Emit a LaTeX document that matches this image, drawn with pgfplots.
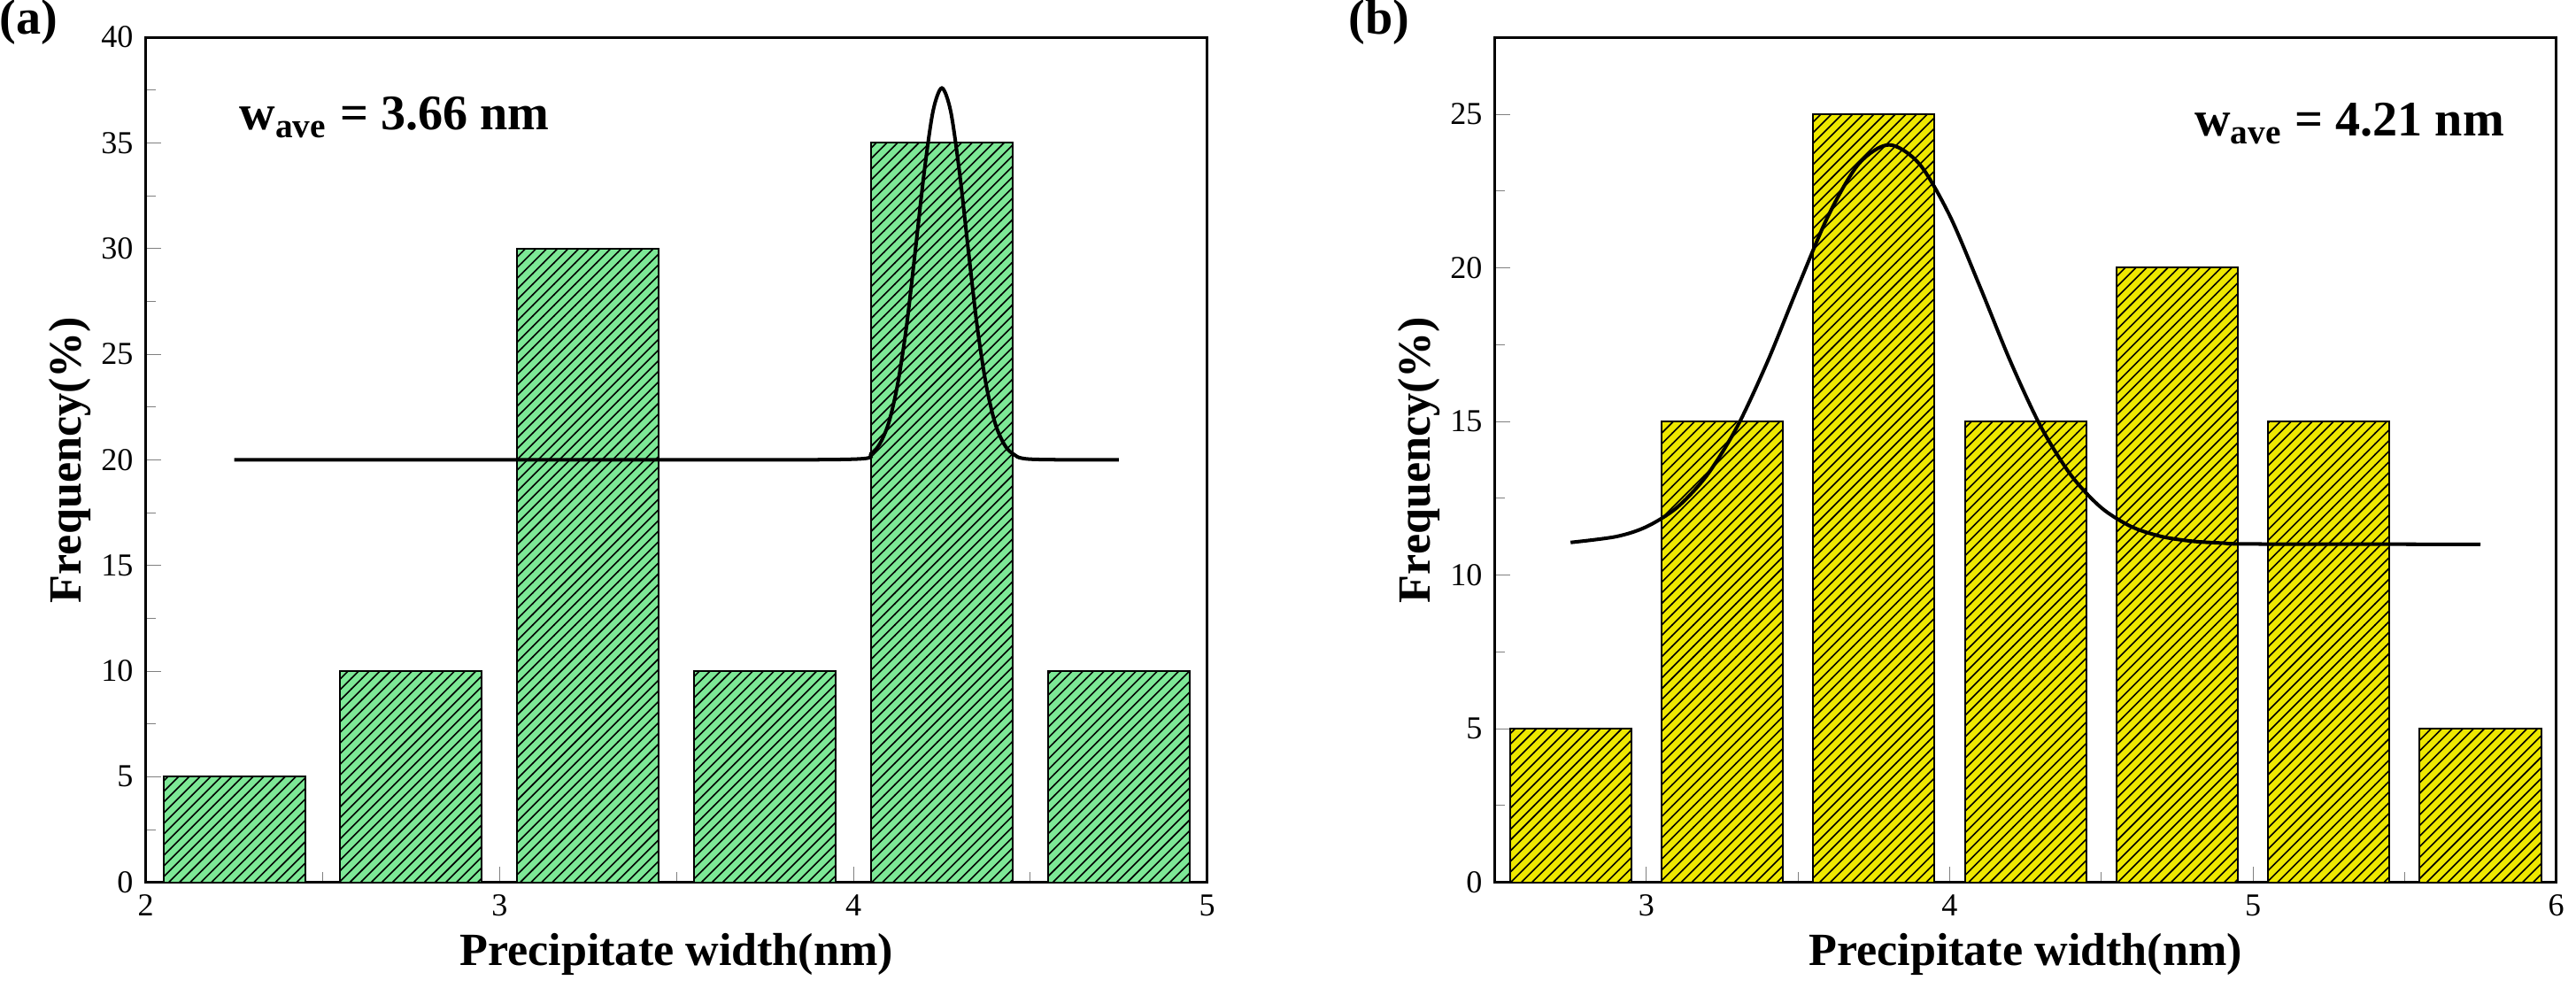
\documentclass[border=0pt]{standalone}
\usepackage{pgfplots}
\pgfplotsset{compat=1.18}
\usepackage{fontspec}
\setmainfont{Liberation Serif}
\usetikzlibrary{patterns}
\definecolor{bargreen}{RGB}{125,232,150}
\definecolor{baryellow}{RGB}{238,232,0}
\pgfplotsset{
  myax/.style={
    width=299pt, height=238pt, scale only axis,
    ymin=0, tick align=inside, axis line style={line width=0.8pt},
    xtick pos=bottom, ytick pos=left,
    minor x tick num=1, minor y tick num=1,
    ticklabel style={font=\fontsize{9}{10}\selectfont},
    /pgf/number format/assume math mode=true,
    xlabel={\fontsize{13}{14}\selectfont\bfseries Precipitate width(nm)},
    ylabel={\fontsize{13}{14}\selectfont\bfseries Frequency(\%)},
    xlabel style={yshift=2pt}, ylabel style={yshift=-4pt},
    clip=false,
  },
  mybar/.style={ybar, bar width=0.4, bar shift=0pt, draw=black, line width=0.5pt,
    postaction={pattern=north east lines}},
}
\begin{document}
\begin{tikzpicture}
\begin{axis}[myax, xmin=2, xmax=5, ymax=40, xtick={2,3,4,5}, ytick={0,5,...,40}]
\addplot[mybar, fill=bargreen] coordinates {(2.25,5) (2.75,10) (3.25,30) (3.75,10) (4.25,35) (4.75,10)};
\addplot[black, line width=1pt, smooth] coordinates {(2.25,20) (3.5,20) (4.0,20.03) (4.05,20.3) (4.075,20.77) (4.1,21.76) (4.125,23.57) (4.15,26.3) (4.175,29.9) (4.2,33.6) (4.225,36.5) (4.25,37.6) (4.275,36.5) (4.3,33.6) (4.325,29.9) (4.35,26.3) (4.375,23.57) (4.4,21.76) (4.425,20.77) (4.45,20.3) (4.5,20.03) (4.75,20)};
\node[anchor=west, font=\fontsize{14}{15}\selectfont\bfseries] at (axis cs:2.23,36.2) {w\textsubscript{ave} = 3.66 nm};
\node[anchor=north west, inner sep=0pt, font=\fontsize{14}{15}\selectfont\bfseries] at (rel axis cs:-0.138,1.045) {(a)};
\end{axis}
\begin{axis}[myax, xshift=380pt, xmin=2.5, xmax=6, ymax=27.5, xtick={3,4,5,6}, ytick={0,5,...,25}]
\addplot[mybar, fill=baryellow] coordinates {(2.75,5) (3.25,15) (3.75,25) (4.25,15) (4.75,20) (5.25,15) (5.75,5)};
\addplot[black, line width=1pt, smooth] coordinates {(2.75,11.06) (2.9,11.25) (3.0,11.57) (3.1,12.19) (3.2,13.25) (3.3,14.84) (3.4,16.96) (3.5,19.38) (3.6,21.7) (3.7,23.38) (3.8,24) (3.9,23.38) (4.0,21.7) (4.1,19.38) (4.2,16.96) (4.3,14.84) (4.4,13.25) (4.5,12.19) (4.6,11.57) (4.7,11.25) (4.8,11.1) (4.9,11.04) (5.0,11.01) (5.75,11)};
\node[anchor=east, font=\fontsize{14}{15}\selectfont\bfseries] at (axis cs:5.87,24.7) {w\textsubscript{ave} = 4.21 nm};
\node[anchor=north west, inner sep=0pt, font=\fontsize{14}{15}\selectfont\bfseries] at (rel axis cs:-0.138,1.045) {(b)};
\end{axis}
\end{tikzpicture}
\end{document}
